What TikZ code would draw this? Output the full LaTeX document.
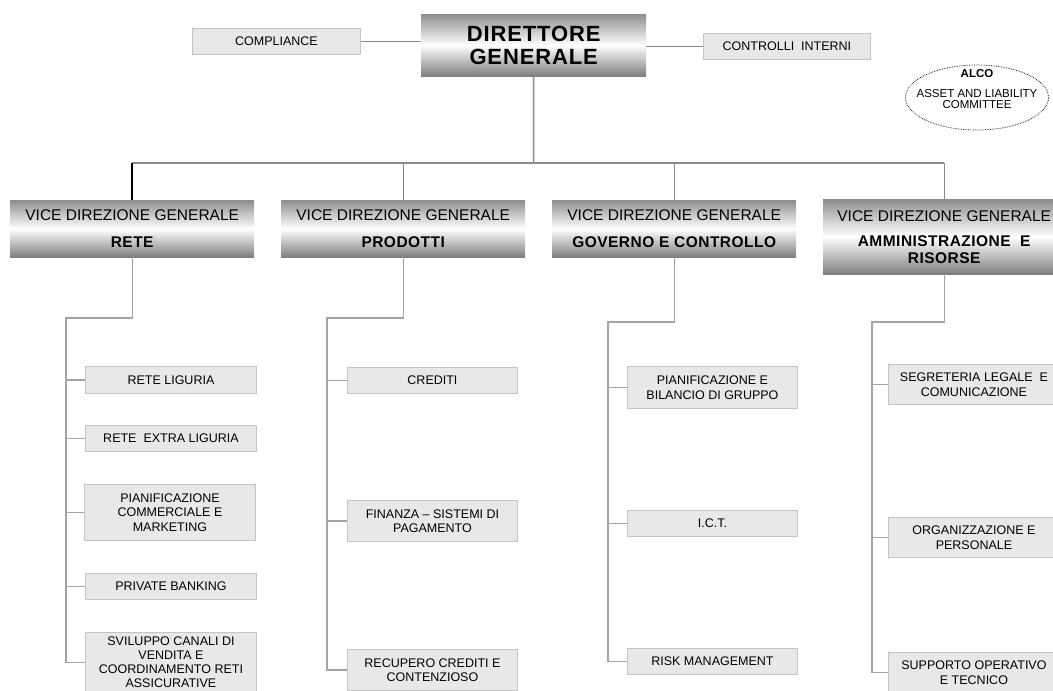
\documentclass[tikz,border=0pt]{standalone}
\usepackage{fontspec}
\setmainfont{Liberation Sans}
\usetikzlibrary{shapes.geometric}
\definecolor{boxfill}{HTML}{E8E8E8}
\definecolor{boxline}{HTML}{C4C4C4}
\definecolor{connc}{HTML}{8A8A8A}
\definecolor{subc}{HTML}{A4A4A4}
\definecolor{shadetop}{HTML}{8E8E8E}
\definecolor{shadebot}{HTML}{7E7E7E}
\newcommand{\bl}[1]{{\bfseries\addfontfeatures{LetterSpace=3}#1}}
\begin{document}
\begin{tikzpicture}[x=1pt,y=-1pt,
  small/.style={draw=boxline, fill=boxfill, line width=0.9pt, anchor=north west,
    inner sep=0pt, align=center, font=\fontsize{12.5}{14.5}\selectfont},
  grad/.style={anchor=north west, inner sep=0pt, top color=shadetop,
    bottom color=shadebot, middle color=white, align=center},
  vdg/.style={grad, minimum width=244pt, minimum height=57pt,
    font=\fontsize{15.5}{27}\selectfont},
  conn/.style={draw=connc, line width=1.5pt},
  sub/.style={draw=subc, line width=1.2pt}]
\useasboundingbox (0,0) rectangle (1053,691);

% top level
\node[grad, minimum width=225pt, minimum height=62pt,
  font=\fontsize{22}{23}\selectfont\bfseries\addfontfeatures{LetterSpace=4}]
  (dg) at (421,14) {DIRETTORE\\GENERALE};
\node[small, minimum width=168pt, minimum height=26pt] (comp) at (192,28) {COMPLIANCE};
\node[small, minimum width=167pt, minimum height=26pt] (ctrl) at (703,33) {CONTROLLI\ \ INTERNI};
\draw[conn, line width=1.2pt] (comp.east) -- (comp.east -| dg.west);
\draw[conn, line width=1.2pt] (ctrl.west) -- (ctrl.west -| dg.east);

% ALCO
\node[ellipse, draw, densely dotted, line width=0.7pt, minimum width=143pt,
  minimum height=65pt, inner sep=0pt] (alco) at (977,97.5) {};
\node[align=center, inner sep=0pt, font=\fontsize{11.5}{11}\selectfont]
  (alcot) at (977,89) {\textbf{ALCO}\\[8.5pt]ASSET AND LIABILITY\\COMMITTEE};

% vice direzioni
\node[vdg] (v1) at (10,200) {VICE DIREZIONE GENERALE\\\bl{RETE}};
\node[vdg] (v2) at (281,200) {VICE DIREZIONE GENERALE\\\bl{PRODOTTI}};
\node[vdg] (v3) at (552,200) {VICE DIREZIONE GENERALE\\\bl{GOVERNO E CONTROLLO}};
\node[vdg, minimum width=242pt, minimum height=75pt, font=\fontsize{15.5}{17}\selectfont]
  (v4) at (823,199) {VICE DIREZIONE GENERALE\\[8pt]\bl{AMMINISTRAZIONE\ \ E}\\\bl{RISORSE}};

% bus
\coordinate (bus) at (533.5,163);
\draw[conn] (dg.south) -- (bus);
\draw[conn] (v1.north |- bus) -- (v4.north |- bus);
\draw[line width=2.2pt, black] (v1.north |- bus) -- (v1.north);
\draw[conn, line width=1.2pt] (v2.north |- bus) -- (v2.north);
\draw[conn, line width=1.2pt] (v3.north |- bus) -- (v3.north);
\draw[conn, line width=1.2pt] (v4.north |- bus) -- (v4.north);

% RETE children
\node[small, minimum width=171pt, minimum height=27pt] (rl) at (85,366) {RETE LIGURIA};
\node[small, minimum width=171pt, minimum height=26pt] (rel) at (85,425) {RETE\ \ EXTRA LIGURIA};
\node[small, minimum width=171pt, minimum height=56pt] (pcm) at (84,484) {PIANIFICAZIONE\\COMMERCIALE E\\MARKETING};
\node[small, minimum width=171pt, minimum height=26pt] (pb) at (85,573) {PRIVATE BANKING};
\node[small, minimum width=171pt, minimum height=60pt, font=\fontsize{12.5}{14}\selectfont]
  (scv) at (85,632) {SVILUPPO CANALI DI\\VENDITA E\\COORDINAMENTO RETI\\ASSICURATIVE};
\coordinate (s1) at (66,318);
\draw[sub] (v1.south) |- (s1) -- (s1 |- scv.west) -- (scv.west);
\foreach \n in {rl,rel,pcm,pb} \draw[sub] (s1 |- \n.west) -- (\n.west);

% PRODOTTI children
\node[small, minimum width=170pt, minimum height=26pt] (cred) at (347,367) {CREDITI};
\node[small, minimum width=170pt, minimum height=41pt] (fin) at (347,500) {FINANZA -- SISTEMI DI\\PAGAMENTO};
\node[small, minimum width=170pt, minimum height=41pt] (rec) at (347,649) {RECUPERO CREDITI E\\CONTENZIOSO};
\coordinate (s2) at (327,318);
\draw[sub] (v2.south) |- (s2) -- (s2 |- rec.west) -- (rec.west);
\foreach \n in {cred,fin} \draw[sub] (s2 |- \n.west) -- (\n.west);

% GOVERNO children
\node[small, minimum width=170pt, minimum height=42pt] (pbg) at (627,366) {PIANIFICAZIONE E\\BILANCIO DI GRUPPO};
\node[small, minimum width=170pt, minimum height=26pt] (ict) at (627,510) {I.C.T.};
\node[small, minimum width=170pt, minimum height=26pt] (risk) at (627,648) {RISK MANAGEMENT};
\coordinate (s3) at (608,322);
\draw[sub] (v3.south) |- (s3) -- (s3 |- risk.west) -- (risk.west);
\foreach \n in {pbg,ict} \draw[sub] (s3 |- \n.west) -- (\n.west);

% AMMINISTRAZIONE children
\node[small, minimum width=171pt, minimum height=40pt] (seg) at (888,364) {SEGRETERIA LEGALE\ \ E\\COMUNICAZIONE};
\node[small, minimum width=171pt, minimum height=40pt] (org) at (888,517) {ORGANIZZAZIONE E\\PERSONALE};
\node[small, minimum width=171pt, minimum height=40pt] (sup) at (888,652) {SUPPORTO OPERATIVO\\E TECNICO};
\coordinate (s4) at (872,322);
\draw[sub] (v4.south) |- (s4) -- (s4 |- sup.west) -- (sup.west);
\foreach \n in {seg,org} \draw[sub] (s4 |- \n.west) -- (\n.west);
\end{tikzpicture}
\end{document}
